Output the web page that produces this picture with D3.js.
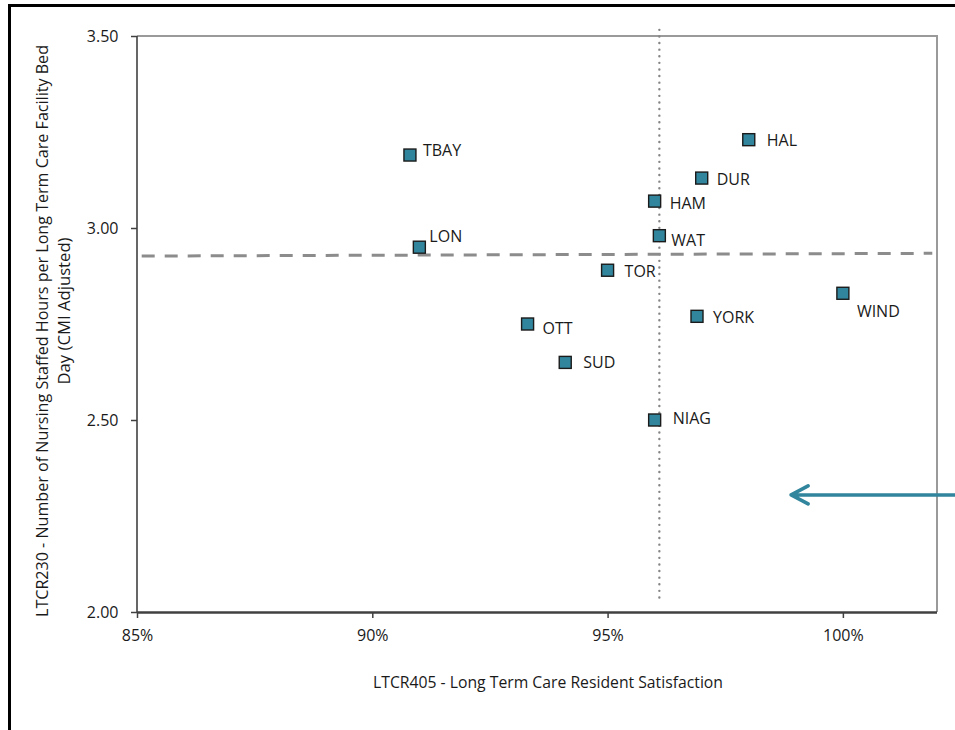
<!DOCTYPE html>
<html>
<head>
<meta charset="utf-8">
<script src="https://cdn.jsdelivr.net/npm/d3@7"></script>
<style>
  html, body { margin: 0; padding: 0; background: #fff; }
  svg { display: block; }
  text { font-family: "Open Sans", Lato, sans-serif; fill: #1a1a1a; }
</style>
</head>
<body>
<svg id="chart" width="955" height="730"></svg>
<script>
// ---- data ----
const sites        = ["TBAY", "LON", "HAL", "DUR", "HAM", "WAT", "TOR", "WIND", "OTT", "SUD", "YORK", "NIAG"];
const satisfaction = [0.908, 0.910, 0.980, 0.970, 0.960, 0.961, 0.950, 1.000, 0.933, 0.941, 0.969, 0.960];
const nursingHours = [3.19, 2.95, 3.23, 3.13, 3.07, 2.98, 2.89, 2.83, 2.75, 2.65, 2.77, 2.50];

const xTicks = [0.85, 0.90, 0.95, 1.00];
const yTicks = [2.00, 2.50, 3.00, 3.50];

// reference lines
const vRefX = [0.961, 0.961];
const vRefY = [3.516, 2.026];
const hRefX = [0.851, 1.019];
const hRefY = [2.927, 2.934];

// annotation arrow (pointing left)
const arrowX = [1.026, 0.989];
const arrowY = [2.305, 2.305];

const xTitle = "LTCR405 - Long Term Care Resident Satisfaction";
const yTitleLines = ["LTCR230 - Number of Nursing Staffed Hours per Long Term Care Facility Bed", "Day (CMI Adjusted)"];

// ---- layout (label offsets: dx, baseline dy relative to marker centre) ----
const labelOffset = {
  TBAY: [13, 1], LON: [10, -5.5], HAL: [18, 6], DUR: [15, 6.5], HAM: [15, 8], WAT: [12, 10],
  TOR: [17, 6.7], WIND: [14, 24], OTT: [15, 9.5], SUD: [18, 6], YORK: [16, 6.7], NIAG: [18, 4]
};

const svg = d3.select("#chart");
const plot = { left: 137, right: 937, top: 36, bottom: 612 };

const x = d3.scaleLinear().domain([0.85, 1.02]).range([plot.left, plot.right]);
const y = d3.scaleLinear().domain([2.0, 3.5]).range([plot.bottom, plot.top]);

// outer frame
svg.append("rect").attr("x", 9.5).attr("y", 5.5).attr("width", 990).attr("height", 760)
  .attr("fill", "none").attr("stroke", "#000").attr("stroke-width", 3);

// plot border (top & right, light)
svg.append("path")
  .attr("d", `M${plot.left},${plot.top}H${plot.right}V${plot.bottom}`)
  .attr("fill", "none").attr("stroke", "#9a9a9a").attr("stroke-width", 2);

// axes
const xAxis = d3.axisBottom(x).tickValues(xTicks).tickFormat(d3.format(".0%")).tickSize(6).tickPadding(12);
const yAxis = d3.axisLeft(y).tickValues(yTicks).tickFormat(d3.format(".2f")).tickSize(6).tickPadding(12.5);

const gx = svg.append("g").attr("transform", `translate(0,${plot.bottom})`).call(xAxis);
const gy = svg.append("g").attr("transform", `translate(${plot.left},0)`).call(yAxis);

[gx, gy].forEach(g => {
  g.selectAll("text").style("font-size", "16px").style("font-family", "'Open Sans', Lato, sans-serif").attr("fill", "#1a1a1a");
  g.selectAll(".tick line").attr("stroke", "#404040").attr("stroke-width", 1.5);
});
gx.select(".domain").attr("stroke", "#404040").attr("stroke-width", 2.5).attr("d", `M${plot.left},0.5H${plot.right}`);
gy.select(".domain").attr("stroke", "#404040").attr("stroke-width", 1.6).attr("d", `M0,${plot.top}V${plot.bottom}`);

// reference lines
const line = d3.line().x(d => x(d[0])).y(d => y(d[1]));
svg.append("path")
  .attr("d", line(d3.zip(vRefX, vRefY)))
  .attr("fill", "none").attr("stroke", "#858585").attr("stroke-width", 2.4)
  .attr("stroke-dasharray", "0 6.6").attr("stroke-linecap", "round");
svg.append("path")
  .attr("d", line(d3.zip(hRefX, hRefY)))
  .attr("fill", "none").attr("stroke", "#8c8c8c").attr("stroke-width", 3)
  .attr("stroke-dasharray", "13 10");

// arrow
const ax0 = x(arrowX[0]), ax1 = x(arrowX[1]), ay = y(arrowY[1]);
svg.append("path")
  .attr("d", `M${ax0},${y(arrowY[0])}L${ax1},${ay}M${ax1 + 17},${ay - 9}L${ax1},${ay}L${ax1 + 17},${ay + 9}`)
  .attr("fill", "none").attr("stroke", "#31859C").attr("stroke-width", 3.5)
  .attr("stroke-linecap", "round").attr("stroke-linejoin", "round");

// points
const pts = sites.map((s, i) => ({ name: s, x: satisfaction[i], y: nursingHours[i] }));
const ms = 12;
svg.append("g").selectAll("rect").data(pts).join("rect")
  .attr("x", d => x(d.x) - ms / 2).attr("y", d => y(d.y) - ms / 2)
  .attr("width", ms).attr("height", ms)
  .attr("fill", "#31859C").attr("stroke", "#1b1b1b").attr("stroke-width", 1.4);

svg.append("g").selectAll("text").data(pts).join("text")
  .attr("x", d => x(d.x) + labelOffset[d.name][0])
  .attr("y", d => y(d.y) + labelOffset[d.name][1])
  .style("font-size", "16px")
  .text(d => d.name);

// axis titles
svg.append("text").attr("x", 548).attr("y", 688).attr("text-anchor", "middle")
  .attr("textLength", 350).attr("lengthAdjust", "spacingAndGlyphs")
  .style("font-size", "16px").text(xTitle);

const yt = svg.append("g");
yt.append("text").attr("transform", "translate(48,331) rotate(-90)").attr("text-anchor", "middle")
  .attr("textLength", 572).attr("lengthAdjust", "spacingAndGlyphs")
  .style("font-size", "16px").text(yTitleLines[0]);
yt.append("text").attr("transform", "translate(70,311) rotate(-90)").attr("text-anchor", "middle")
  .attr("textLength", 147).attr("lengthAdjust", "spacingAndGlyphs")
  .style("font-size", "16px").text(yTitleLines[1]);
</script>
</body>
</html>
